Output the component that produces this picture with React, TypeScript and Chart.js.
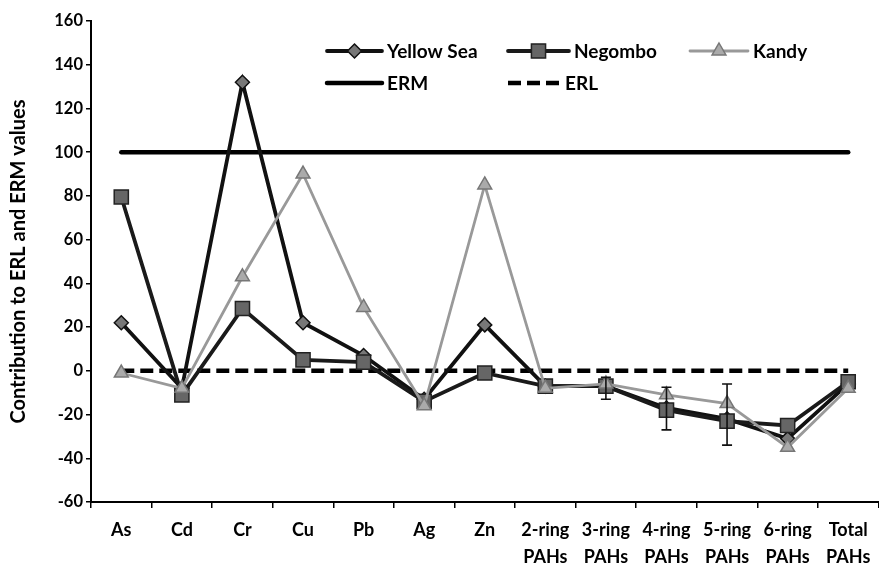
import React, { useEffect, useRef } from "react";
import { Chart, registerables } from "chart.js";

Chart.register(...registerables);

const categories: (string | string[])[] = [
  "As", "Cd", "Cr", "Cu", "Pb", "Ag", "Zn",
  ["2-ring", "PAHs"], ["3-ring", "PAHs"], ["4-ring", "PAHs"],
  ["5-ring", "PAHs"], ["6-ring", "PAHs"], ["Total", "PAHs"],
];
const yellowSea = [22, -8, 132, 22, 7, -13, 21, -7, -7, -17, -22, -31, -6];
const negombo = [79.5, -11, 28.5, 5, 4, -14, -1, -7, -7, -18, -23, -25, -5];
const kandy = [-1, -8, 43, 90, 29, -16, 85, -8, -6, -11, -15, -35, -8];
const erm = [100, 100, 100, 100, 100, 100, 100, 100, 100, 100, 100, 100, 100];
const erl = [0, 0, 0, 0, 0, 0, 0, 0, 0, 0, 0, 0, 0];
const errLow: (number | null)[] = [null, null, null, null, null, null, null, null, -13, -27, -34, null, null];
const errHigh: (number | null)[] = [null, null, null, null, null, null, null, null, -3, -7.5, -6, null, null];
const yTicks = { min: -60, max: 160, step: 20 };
const yTitle = "Contribution to ERL and ERM values";

const FONT = "Lato, 'Open Sans', sans-serif";

function drawMarker(ctx: CanvasRenderingContext2D, style: string, x: number, y: number, r: number, fill: string, stroke: string) {
  ctx.save();
  ctx.beginPath();
  if (style === "rectRot") {
    ctx.moveTo(x, y - r); ctx.lineTo(x + r, y); ctx.lineTo(x, y + r); ctx.lineTo(x - r, y); ctx.closePath();
  } else if (style === "rect") {
    const s = r * Math.SQRT1_2;
    ctx.rect(x - s, y - s, 2 * s, 2 * s);
  } else {
    ctx.moveTo(x, y - r); ctx.lineTo(x + r * 0.866, y + r * 0.5); ctx.lineTo(x - r * 0.866, y + r * 0.5); ctx.closePath();
  }
  ctx.fillStyle = fill; ctx.fill();
  ctx.strokeStyle = stroke; ctx.lineWidth = 1.5; ctx.stroke();
  ctx.restore();
}

const legendPlugin = {
  id: "customLegend",
  afterDraw(chart: any) {
    const ctx: CanvasRenderingContext2D = chart.ctx;
    const ca = chart.chartArea;
    const x0 = ca.left + 236;
    const x1 = ca.left + 417;
    const x2 = ca.left + 599;
    const r1 = ca.top + 30;
    const r2 = ca.top + 62;
    const items = [
      { ds: 0, x: x0, y: r1, w: 55 },
      { ds: 1, x: x1, y: r1, w: 61 },
      { ds: 2, x: x2, y: r1, w: 58 },
      { ds: 3, x: x0, y: r2, w: 55 },
      { ds: 4, x: x1, y: r2, w: 52 },
    ];
    ctx.save();
    for (const it of items) {
      const d = chart.data.datasets[it.ds];
      ctx.save();
      ctx.strokeStyle = d.borderColor;
      ctx.lineWidth = d.borderWidth;
      ctx.setLineDash(d.borderDash || []);
      ctx.lineCap = d.borderDash ? "butt" : "round";
      ctx.beginPath();
      ctx.moveTo(it.x, it.y);
      ctx.lineTo(it.x + it.w, it.y);
      ctx.stroke();
      ctx.restore();
      if (d.pointRadius > 0) {
        drawMarker(ctx, d.pointStyle, it.x + it.w / 2, it.y, d.pointRadius, d.pointBackgroundColor, d.pointBorderColor);
      }
      ctx.fillStyle = "#000";
      ctx.font = `bold 19px ${FONT}`;
      ctx.textBaseline = "middle";
      ctx.textAlign = "left";
      ctx.fillText(d.label, it.x + it.w + 5, it.y + 1);
    }
    ctx.restore();
  },
};

const errorBarPlugin = {
  id: "errorBars",
  afterDatasetsDraw(chart: any) {
    const ctx: CanvasRenderingContext2D = chart.ctx;
    const xs = chart.scales.x;
    const ys = chart.scales.y;
    ctx.save();
    ctx.strokeStyle = "#111";
    ctx.lineWidth = 1.6;
    for (let i = 0; i < errLow.length; i++) {
      const lo = errLow[i];
      const hi = errHigh[i];
      if (lo == null || hi == null) continue;
      const x = xs.getPixelForValue(i);
      const yl = ys.getPixelForValue(lo);
      const yh = ys.getPixelForValue(hi);
      ctx.beginPath();
      ctx.moveTo(x, yl); ctx.lineTo(x, yh);
      ctx.moveTo(x - 5, yl); ctx.lineTo(x + 5, yl);
      ctx.moveTo(x - 5, yh); ctx.lineTo(x + 5, yh);
      ctx.stroke();
    }
    ctx.restore();
  },
};

export default function App() {
  const ref = useRef<HTMLCanvasElement | null>(null);
  useEffect(() => {
    if (!ref.current) return;
    const chart = new Chart(ref.current, {
      type: "line",
      data: {
        labels: categories as any,
        datasets: [
          {
            label: "Yellow Sea", data: yellowSea, borderColor: "#111", borderWidth: 3.8,
            pointStyle: "rectRot", pointRadius: 7, pointBackgroundColor: "#777", pointBorderColor: "#111",
            pointBorderWidth: 1.5, order: 3, tension: 0,
          } as any,
          {
            label: "Negombo", data: negombo, borderColor: "#1a1a1a", borderWidth: 3.8,
            pointStyle: "rect", pointRadius: 10, pointBackgroundColor: "#666", pointBorderColor: "#222",
            pointBorderWidth: 1.5, order: 2, tension: 0,
          },
          {
            label: "Kandy", data: kandy, borderColor: "#999", borderWidth: 2.8,
            pointStyle: "triangle", pointRadius: 8, pointBackgroundColor: "#aaa", pointBorderColor: "#777",
            pointBorderWidth: 1.5, order: 1, tension: 0,
          },
          {
            label: "ERM", data: erm, borderColor: "#000", borderWidth: 4.5, pointRadius: 0,
            order: 5, borderCapStyle: "round",
          },
          {
            label: "ERL", data: erl, borderColor: "#000", borderWidth: 4.5, pointRadius: 0,
            borderDash: [13, 6], order: 4,
          },
        ],
      },
      options: {
        animation: false,
        responsive: true,
        maintainAspectRatio: false,
        layout: { padding: { top: 21, right: 3, left: 0, bottom: 0 } },
        plugins: { legend: { display: false }, tooltip: { enabled: false } },
        scales: {
          x: {
            offset: true,
            afterFit: (s: any) => { s.height = 64; },
            border: { color: "#000", width: 2 },
            grid: { display: true, drawOnChartArea: false, offset: true, tickLength: 6, color: "#000", lineWidth: 1.5 },
            ticks: {
              color: "#000", font: { family: FONT, size: 18, weight: "bold", lineHeight: 1.5 },
              padding: 9, maxRotation: 0, autoSkip: false,
            },
          },
          y: {
            min: yTicks.min, max: yTicks.max,
            afterFit: (s: any) => { s.width = 91; },
            border: { color: "#000", width: 2 },
            grid: { display: true, drawOnChartArea: false, tickLength: 5, color: "#000", lineWidth: 1.5 },
            ticks: { stepSize: yTicks.step, color: "#000", font: { family: FONT, size: 16.5, weight: "bold" }, padding: 3 },
            title: { display: true, text: yTitle, color: "#000", font: { family: FONT, size: 20, weight: "bold" }, padding: { top: 7, bottom: 0 } },
          },
        },
      },
      plugins: [errorBarPlugin, legendPlugin],
    });
    return () => chart.destroy();
  }, []);
  return (
    <div style={{ position: "fixed", left: 0, top: 0, width: 879, height: 566, overflow: "hidden", background: "#fff" }}>
      <div style={{ position: "relative", width: 890, height: 566 }}>
        <canvas ref={ref} />
      </div>
    </div>
  );
}
